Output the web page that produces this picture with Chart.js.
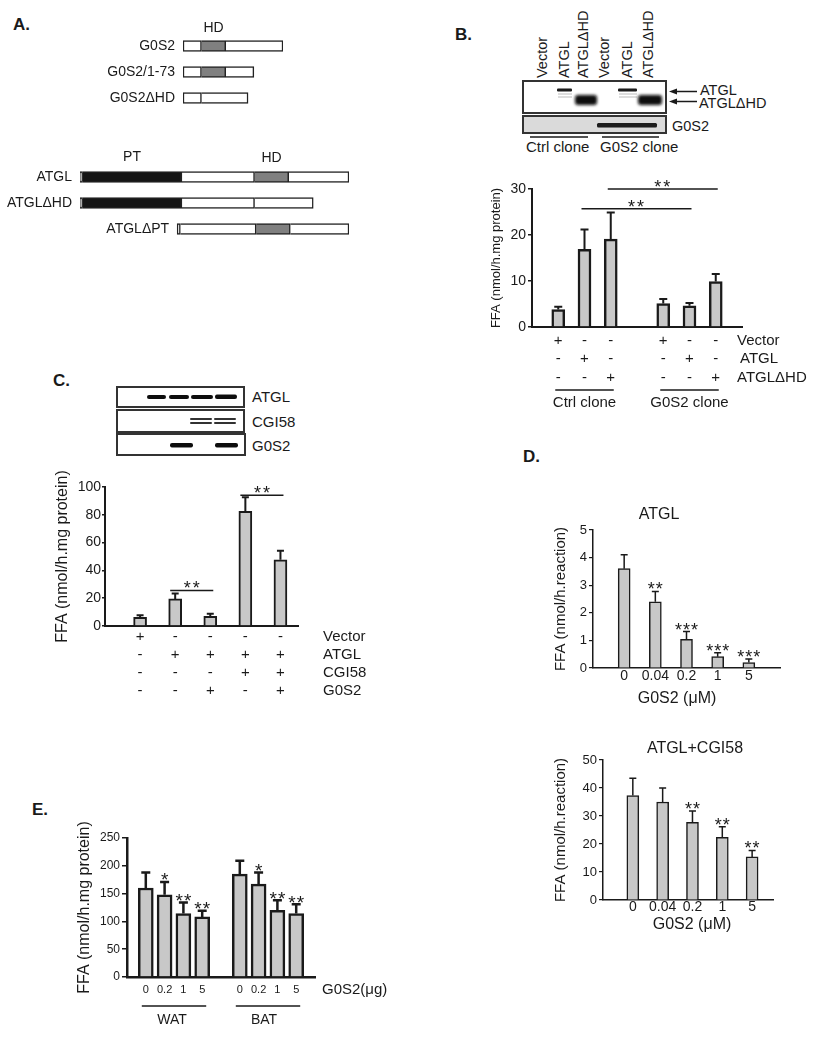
<!DOCTYPE html>
<html><head><meta charset="utf-8">
<script src="https://cdn.jsdelivr.net/npm/chart.js@4.4.1/dist/chart.umd.min.js"></script>
<style>
html,body{margin:0;padding:0;background:#fff;}
#page{position:relative;width:818px;height:1050px;overflow:hidden;background:#fff;}
canvas{position:absolute;}
svg{position:absolute;left:0;top:0;}
</style></head>
<body><div id="page">
<svg width="818" height="1050" font-family="'Liberation Sans', Arial, sans-serif" fill="#1a1a1a">
<defs>
<filter id="b1" x="-20%" y="-100%" width="140%" height="300%"><feGaussianBlur stdDeviation="0.7"/></filter>
<filter id="b2" x="-20%" y="-50%" width="140%" height="200%"><feGaussianBlur stdDeviation="1.4"/></filter>
</defs>
<g font-weight="bold" font-size="17">
<text x="13" y="30">A.</text>
<text x="455" y="40">B.</text>
<text x="53" y="386">C.</text>
<text x="523" y="462">D.</text>
<text x="32" y="815">E.</text>
</g>
<!-- Panel B blot -->
<g font-size="14.5" dominant-baseline="central">
<text transform="translate(542,78) rotate(-90)">Vector</text>
<text transform="translate(564,78) rotate(-90)">ATGL</text>
<text transform="translate(583,78) rotate(-90)">ATGLΔHD</text>
<text transform="translate(604,78) rotate(-90)">Vector</text>
<text transform="translate(627,78) rotate(-90)">ATGL</text>
<text transform="translate(648,78) rotate(-90)">ATGLΔHD</text>
</g>
<rect x="523" y="81" width="143" height="32" fill="#fff" stroke="#333" stroke-width="2"/>
<g stroke="#bbb" stroke-width="1">
<line x1="558" y1="94" x2="572" y2="94"/><line x1="558" y1="97" x2="572" y2="97"/>
<line x1="619" y1="94" x2="637" y2="94"/><line x1="619" y1="97" x2="637" y2="97"/>
</g>
<g filter="url(#b1)" fill="#1a1a1a">
<rect x="557" y="88.5" width="15" height="3" rx="1"/>
<rect x="618" y="88.5" width="19" height="3" rx="1"/>
</g>
<g filter="url(#b2)" fill="#0a0a0a">
<rect x="575" y="95" width="22" height="10" rx="3"/>
<rect x="638" y="95" width="24" height="10" rx="3"/>
</g>
<rect x="523" y="116" width="143" height="17" fill="#dadada" stroke="#333" stroke-width="2"/>
<g filter="url(#b1)" fill="#1a1a1a">
<rect x="597" y="123" width="60" height="4.5" rx="1.5"/>
</g>
<g stroke="#1a1a1a" stroke-width="1.5">
<line x1="675" y1="91.5" x2="697" y2="91.5"/>
<line x1="675" y1="101.5" x2="697" y2="101.5"/>
<line x1="530" y1="137" x2="588" y2="137"/>
<line x1="602" y1="137" x2="659" y2="137"/>
</g>
<polygon points="669,91.5 677,88.5 677,94.5"/>
<polygon points="669,101.5 677,98.5 677,104.5"/>
<g font-size="14.5">
<text x="700" y="95">ATGL</text>
<text x="699" y="108">ATGLΔHD</text>
<text x="672" y="131">G0S2</text>
</g>
<g font-size="15">
<text x="526" y="152">Ctrl clone</text>
<text x="600" y="152">G0S2 clone</text>
</g>
<!-- Panel C blot -->
<rect x="117" y="387" width="127" height="20" fill="#fff" stroke="#333" stroke-width="2"/>
<rect x="117" y="410" width="127" height="22" fill="#fff" stroke="#333" stroke-width="2"/>
<rect x="117" y="434" width="128" height="21" fill="#fff" stroke="#333" stroke-width="2"/>
<g filter="url(#b1)" fill="#111">
<rect x="147" y="395" width="19" height="4" rx="2"/>
<rect x="169" y="395" width="20" height="4" rx="2"/>
<rect x="191" y="395" width="22" height="4" rx="2"/>
<rect x="215" y="394.5" width="22" height="4.5" rx="2"/>
<rect x="170" y="443" width="23" height="4.5" rx="2"/>
<rect x="215" y="443" width="23" height="4.5" rx="2"/>
</g>
<g filter="url(#b1)" fill="#333">
<rect x="190" y="418" width="22" height="2" rx="1"/>
<rect x="214" y="418" width="22" height="2" rx="1"/>
<rect x="190" y="422" width="22" height="2" rx="1"/>
<rect x="214" y="422" width="22" height="2" rx="1"/>
</g>
<g font-size="15">
<text x="252" y="402">ATGL</text>
<text x="252" y="426.5">CGI58</text>
<text x="252" y="450.5">G0S2</text>
</g>
</svg>
<canvas id="cA1"></canvas>
<canvas id="cA2"></canvas>
<canvas id="cB"></canvas>
<canvas id="cC"></canvas>
<canvas id="cD1"></canvas>
<canvas id="cD2"></canvas>
<canvas id="cE"></canvas>
</div>
<script>
// ---------------- DATA ----------------
// Panel A: domain maps (segment start, end, kind)
const g0s2Constructs = ['G0S2', 'G0S2/1-73', 'G0S2ΔHD'];
const g0s2Segments = [
  [[0, 19, 'plain'], [19, 44, 'HD'], [44, 103, 'plain']],
  [[0, 19, 'plain'], [19, 44, 'HD'], [44, 73, 'plain']],
  [[0, 19, 'plain'], [19, 67, 'plain']]
];
const atglConstructs = ['ATGL', 'ATGLΔHD', 'ATGLΔPT'];
const atglSegments = [
  [[0, 4, 'plain'], [4, 191, 'PT'], [191, 327, 'plain'], [327, 391, 'HD'], [391, 504, 'plain']],
  [[0, 4, 'plain'], [4, 191, 'PT'], [191, 327, 'plain'], [327, 437, 'plain']],
  [[182, 188, 'plain'], [188, 330, 'plain'], [330, 394, 'HD'], [394, 504, 'plain']]
];

// Panel B
const bCategories = ['Vector', 'ATGL', 'ATGLΔHD', '', 'Vector', 'ATGL', 'ATGLΔHD'];
const bFFA = [3.8, 16.9, 19.1, null, 5.1, 4.6, 9.9];
const bErr = [0.6, 4.3, 5.8, null, 1.0, 0.6, 1.6];
const bRowLabels = ['Vector', 'ATGL', 'ATGLΔHD'];
const bSigns = [
  ['+', '-', '-', null, '+', '-', '-'],
  ['-', '+', '-', null, '-', '+', '-'],
  ['-', '-', '+', null, '-', '-', '+']
];
const bGroups = [{ label: 'Ctrl clone', first: 1, last: 3 }, { label: 'G0S2 clone', first: 5, last: 7 }];
const bCompare = [{ from: 2, to: 6, y: 25.7, label: '**' }, { from: 3, to: 7, y: 30, label: '**' }];
const bYMax = 30, bYStep = 10;

// Panel C
const cRowLabels = ['Vector', 'ATGL', 'CGI58', 'G0S2'];
const cSigns = [
  ['+', '-', '-', '-', '-'],
  ['-', '+', '+', '+', '+'],
  ['-', '-', '-', '+', '+'],
  ['-', '-', '+', '-', '+']
];
const cFFA = [6.3, 19.5, 7.0, 82.5, 47.6];
const cErr = [1.4, 3.8, 1.9, 10.1, 6.6];
const cCompare = [{ from: 2, to: 3, y: 25.5, label: '**' }, { from: 4, to: 5, y: 94, label: '**' }];
const cYMax = 100, cYStep = 20;

// Panel D
const dDoses = ['0', '0.04', '0.2', '1', '5'];
const dAtgl = [3.6, 2.4, 1.04, 0.41, 0.2];
const dAtglErr = [0.5, 0.37, 0.28, 0.14, 0.13];
const dAtglStars = ['', '**', '***', '***', '***'];
const dCgi = [37.3, 35.0, 27.7, 22.4, 15.4];
const dCgiErr = [6.2, 5.0, 4.1, 3.8, 2.3];
const dCgiStars = ['', '', '**', '**', '**'];

// Panel E
const eDoses = ['0', '0.2', '1', '5'];
const eTissues = ['WAT', 'BAT'];
const eWAT = [160, 148, 114, 108];
const eWATErr = [28, 23, 20, 11];
const eWATStars = ['', '*', '**', '**'];
const eBAT = [185, 167, 120, 114];
const eBATErr = [24, 21, 18, 17];
const eBATStars = ['', '*', '**', '**'];

// ---------------- STYLE / HELPERS ----------------
const FONT = "'Liberation Sans', Arial, sans-serif";
const INK = '#1a1a1a';
const FILL = '#c8c8c8';
const KIND = { plain: '#ffffff', HD: '#808080', PT: '#151515' };
const F = (s, w) => (w ? w + ' ' : '') + s + 'px ' + FONT;

Chart.defaults.font.family = FONT;
Chart.defaults.color = INK;
Chart.defaults.animation = false;
Chart.defaults.events = [];
Chart.defaults.plugins.legend.display = false;
Chart.defaults.plugins.tooltip.enabled = false;

const ANN = {};
function P(chart, p, axis) {
  if (p.v !== undefined) return chart.scales[axis].getPixelForValue(p.v) + (p.d || 0);
  return chart.chartArea[p.e] + (p.d || 0);
}
const annotPlugin = {
  id: 'annot',
  afterDraw(chart) {
    const cfg = ANN[chart.canvas.id];
    if (!cfg || !cfg.items) return;
    const ctx = chart.ctx;
    for (const it of cfg.items) {
      ctx.save();
      if (it.type === 'text') {
        ctx.font = it.font; ctx.fillStyle = it.color || INK;
        ctx.textAlign = it.align || 'center'; ctx.textBaseline = it.baseline || 'middle';
        if (it.ls) ctx.letterSpacing = it.ls + 'px';
        const x = P(chart, it.x, 'x'), y = P(chart, it.y, 'y');
        ctx.translate(x, y); if (it.rot) ctx.rotate(it.rot);
        ctx.fillText(it.text, 0, 0);
      } else if (it.type === 'line') {
        const x1 = P(chart, it.x1, 'x'), x2 = P(chart, it.x2, 'x'), y = P(chart, it.y, 'y');
        ctx.strokeStyle = INK; ctx.lineWidth = it.w || 1.5;
        ctx.beginPath(); ctx.moveTo(x1, y); ctx.lineTo(x2, y); ctx.stroke();
      }
      ctx.restore();
    }
  }
};
const errPlugin = {
  id: 'errbars',
  afterDatasetsDraw(chart) {
    const cfg = ANN[chart.canvas.id];
    if (!cfg || !cfg.err) return;
    const { lw, cap, starSize, starGap } = cfg.err;
    const ctx = chart.ctx, ys = chart.scales.y;
    ctx.save();
    ctx.strokeStyle = INK; ctx.lineWidth = lw; ctx.fillStyle = INK;
    chart.data.datasets.forEach((ds, i) => {
      const meta = chart.getDatasetMeta(i);
      meta.data.forEach((el, j) => {
        const d = ds.data[j];
        if (!d || d.err == null) return;
        const x = el.x, yTop = ys.getPixelForValue(d.y + d.err);
        ctx.beginPath();
        ctx.moveTo(x, el.y); ctx.lineTo(x, yTop);
        ctx.moveTo(x - cap / 2, yTop); ctx.lineTo(x + cap / 2, yTop);
        ctx.stroke();
        if (d.star) {
          ctx.save();
          ctx.font = F(starSize); ctx.textAlign = 'center'; ctx.textBaseline = 'alphabetic';
          ctx.letterSpacing = '1px';
          ctx.fillText(d.star, x + 0.5, yTop - starGap + 0.58 * starSize);
          ctx.restore();
        }
      });
    });
    ctx.restore();
  }
};
Chart.register(annotPlugin, errPlugin);

function T(text, x, y, size, extra) {
  return Object.assign({ type: 'text', text, x, y, font: F(size) }, extra || {});
}
function STAR(text, x, y, size) {
  return { type: 'text', text, x, y: { v: y.v, e: y.e, d: (y.d || 0) + 0.58 * size }, font: F(size), baseline: 'alphabetic', ls: 2 };
}
function L(x1, x2, y, w) { return { type: 'line', x1, x2, y, w }; }

function place(id, box) {
  const c = document.getElementById(id);
  c.width = box.w; c.height = box.h;
  c.style.left = box.x + 'px'; c.style.top = box.y + 'px';
  c.style.width = box.w + 'px'; c.style.height = box.h + 'px';
  return c;
}

function buildBar(id, box, area, s) {
  const c = place(id, box);
  const padL = area.l - box.x, padT = area.t - box.y, padR = box.x + box.w - area.r, padB = box.y + box.h - area.b;
  ANN[id] = { items: s.items, err: s.err };
  return new Chart(c, {
    type: 'bar',
    data: { datasets: [{ data: s.points, backgroundColor: FILL, borderColor: INK, borderWidth: s.bw, borderSkipped: 'start', barThickness: s.barW }] },
    options: {
      responsive: false, devicePixelRatio: 1,
      layout: { padding: { left: 0, top: padT, right: padR, bottom: 0 } },
      scales: {
        x: { type: 'linear', offset: false, min: 0, max: s.xMax,
             ticks: { display: false }, grid: { display: false, drawTicks: false },
             border: { display: true, color: INK, width: s.axisW },
             afterFit: sc => { sc.height = padB; } },
        y: { type: 'linear', min: 0, max: s.yMax,
             ticks: { stepSize: s.yStep, font: { size: s.tickSize }, color: INK, padding: s.tickPad },
             grid: { display: true, drawOnChartArea: false, drawTicks: true, tickLength: s.tickLen, color: INK, lineWidth: s.tickW },
             border: { display: true, color: INK, width: s.axisW },
             afterFit: sc => { sc.width = padL; } }
      }
    }
  });
}

function buildMap(id, box, area, rows, segs, xMax, extraItems) {
  const c = place(id, box);
  const padL = area.l - box.x, padT = area.t - box.y, padR = box.x + box.w - area.r, padB = box.y + box.h - area.b;
  const nSeg = Math.max(...segs.map(s => s.length));
  const datasets = [];
  for (let j = 0; j < nSeg; j++) {
    datasets.push({
      data: segs.map(s => s[j] ? [s[j][0], s[j][1]] : null),
      backgroundColor: segs.map(s => s[j] ? KIND[s[j][2]] : 'transparent'),
      borderColor: '#222', borderWidth: 1.5,
      borderSkipped: j === 0 ? false : 'left',
      barThickness: 11, grouped: false
    });
  }
  const items = rows.map((r, i) => T(r, { v: segs[i][0][0], d: -8 }, { v: i }, 14, { align: 'right' })).concat(extraItems);
  ANN[id] = { items };
  return new Chart(c, {
    type: 'bar',
    data: { labels: rows, datasets },
    options: {
      indexAxis: 'y', responsive: false, devicePixelRatio: 1,
      layout: { padding: { left: padL, top: padT, right: padR, bottom: padB } },
      scales: { x: { type: 'linear', min: 0, max: xMax, display: false }, y: { display: false } }
    }
  });
}

// ---------------- PANEL A ----------------
buildMap('cA1', { x: 100, y: 5, w: 200, h: 112 }, { l: 183, t: 33, r: 283, b: 111 },
  g0s2Constructs, g0s2Segments, 103,
  [T('HD', { v: 31.5 }, { e: 'top', d: -5 }, 14)]);
buildMap('cA2', { x: 0, y: 140, w: 360, h: 108 }, { l: 80, t: 164, r: 349, b: 242 },
  atglConstructs, atglSegments, 504,
  [T('PT', { v: 97.5 }, { e: 'top', d: -7 }, 14), T('HD', { v: 359 }, { e: 'top', d: -6 }, 14)]);

// ---------------- PANEL B ----------------
(function () {
  const points = bFFA.map((v, i) => v == null ? null : { x: i + 1, y: v, err: bErr[i] }).filter(Boolean);
  const items = [];
  const rowOff = [14, 32, 51];
  bSigns.forEach((row, r) => row.forEach((s, i) => { if (s) items.push(T(s, { v: i + 1 }, { e: 'bottom', d: rowOff[r] }, 15)); }));
  bRowLabels.forEach((lab, r) => items.push(T(lab, { e: 'right', d: r === 1 ? -2 : -5 }, { e: 'bottom', d: rowOff[r] }, 15, { align: 'left' })));
  bGroups.forEach(g => {
    items.push(L({ v: g.first, d: -3 }, { v: g.last, d: 3 }, { e: 'bottom', d: 63 }, 1.5));
    items.push(T(g.label, { v: (g.first + g.last) / 2 }, { e: 'bottom', d: 76 }, 15));
  });
  bCompare.forEach(cmp => {
    items.push(L({ v: cmp.from, d: -3 }, { v: cmp.to, d: 2 }, { v: cmp.y }, 1.5));
    items.push(STAR(cmp.label, { v: (cmp.from + cmp.to) / 2 }, { v: cmp.y, d: -6.5 }, 18));
  });
  items.push(T('FFA (nmol/h.mg protein)', { e: 'left', d: -36 }, { v: bYMax / 2 }, 13, { rot: -Math.PI / 2 }));
  buildBar('cB', { x: 480, y: 170, w: 338, h: 242 }, { l: 532, t: 189, r: 742, b: 327 }, {
    points, items, xMax: bCategories.length + 1, yMax: bYMax, yStep: bYStep,
    bw: 2.5, barW: 13, axisW: 2, tickSize: 14, tickPad: 2, tickLen: 4, tickW: 1.5,
    err: { lw: 2, cap: 8, starSize: 18, starGap: 6 }
  });
})();

// ---------------- PANEL C ----------------
(function () {
  const points = cFFA.map((v, i) => ({ x: i + 1, y: v, err: cErr[i] }));
  const items = [];
  const rowOff = [11, 29, 47, 65];
  cSigns.forEach((row, r) => row.forEach((s, i) => items.push(T(s, { v: i + 1 }, { e: 'bottom', d: rowOff[r] }, 15))));
  cRowLabels.forEach((lab, r) => items.push(T(lab, { e: 'right', d: 25 }, { e: 'bottom', d: rowOff[r] }, 15, { align: 'left' })));
  cCompare.forEach(cmp => {
    items.push(L({ v: cmp.from, d: -5 }, { v: cmp.to, d: 3 }, { v: cmp.y }, 1.5));
    items.push(STAR(cmp.label, { v: (cmp.from + cmp.to) / 2 }, { v: cmp.y, d: -7 }, 18));
  });
  items.push(T('FFA (nmol/h.mg protein)', { e: 'left', d: -42.5 }, { v: cYMax / 2 }, 16, { rot: -Math.PI / 2 }));
  buildBar('cC', { x: 45, y: 470, w: 335, h: 235 }, { l: 105, t: 487, r: 298, b: 626 }, {
    points, items, xMax: 5.5, yMax: cYMax, yStep: cYStep,
    bw: 2, barW: 13, axisW: 2, tickSize: 14, tickPad: 1, tickLen: 3, tickW: 1.5,
    err: { lw: 2, cap: 7, starSize: 18, starGap: 6 }
  });
})();

// ---------------- PANEL D ----------------
(function () {
  const points = dAtgl.map((v, i) => ({ x: i + 1, y: v, err: dAtglErr[i], star: dAtglStars[i] }));
  const items = [];
  dDoses.forEach((d, i) => items.push(T(d, { v: i + 1 }, { e: 'bottom', d: 8 }, 14)));
  items.push(T('G0S2 (μM)', { e: 'left', d: 84 }, { e: 'bottom', d: 31 }, 16));
  items.push(T('ATGL', { e: 'left', d: 66 }, { e: 'top', d: -15 }, 16));
  items.push(T('FFA (nmol/h.reaction)', { e: 'left', d: -32 }, { v: 2.5 }, 15, { rot: -Math.PI / 2 }));
  buildBar('cD1', { x: 548, y: 500, w: 270, h: 212 }, { l: 593, t: 530, r: 780, b: 668 }, {
    points, items, xMax: 6, yMax: 5, yStep: 1,
    bw: 1.5, barW: 12, axisW: 1.5, tickSize: 13, tickPad: 2, tickLen: 4, tickW: 1.2,
    err: { lw: 1.5, cap: 7, starSize: 18, starGap: 6.5 }
  });
})();
(function () {
  const points = dCgi.map((v, i) => ({ x: i + 1, y: v, err: dCgiErr[i], star: dCgiStars[i] }));
  const items = [];
  dDoses.forEach((d, i) => items.push(T(d, { v: i + 1 }, { e: 'bottom', d: 7 }, 14)));
  items.push(T('G0S2 (μM)', { e: 'left', d: 89 }, { e: 'bottom', d: 25 }, 16));
  items.push(T('ATGL+CGI58', { e: 'left', d: 92 }, { e: 'top', d: -11 }, 16));
  items.push(T('FFA (nmol/h.reaction)', { e: 'left', d: -42 }, { v: 25 }, 15, { rot: -Math.PI / 2 }));
  buildBar('cD2', { x: 548, y: 735, w: 270, h: 205 }, { l: 603, t: 760, r: 773, b: 900 }, {
    points, items, xMax: 5.7, yMax: 50, yStep: 10,
    bw: 1.5, barW: 12, axisW: 1.5, tickSize: 13, tickPad: 2, tickLen: 4, tickW: 1.2,
    err: { lw: 1.5, cap: 7, starSize: 18, starGap: 6.5 }
  });
})();

// ---------------- PANEL E ----------------
(function () {
  const series = [[eWAT, eWATErr, eWATStars], [eBAT, eBATErr, eBATStars]];
  const points = [];
  const items = [];
  series.forEach(([vals, errs, stars], g) => {
    const base = g * (eDoses.length + 1);
    vals.forEach((v, i) => points.push({ x: base + i + 1, y: v, err: errs[i], star: stars[i] }));
    eDoses.forEach((d, i) => items.push(T(d, { v: base + i + 1 }, { e: 'bottom', d: 13 }, 11)));
    const first = base + 1, last = base + eDoses.length;
    items.push(L({ v: first, d: -4 }, { v: last, d: 4 }, { e: 'bottom', d: 29 }, 1.5));
    items.push(T(eTissues[g], { v: (first + last) / 2, d: -2 - 2 * g }, { e: 'bottom', d: 43 }, 14));
  });
  items.push(T('G0S2(μg)', { e: 'right', d: 7 }, { e: 'bottom', d: 13 }, 15, { align: 'left' }));
  items.push(T('FFA (nmol/h.mg protein)', { e: 'left', d: -42 }, { v: 125 }, 16, { rot: -Math.PI / 2 }));
  buildBar('cE', { x: 70, y: 815, w: 325, h: 215 }, { l: 127, t: 838, r: 315, b: 977 }, {
    points, items, xMax: 2 * eDoses.length + 2, yMax: 250, yStep: 50,
    bw: 2.5, barW: 15, axisW: 2.5, tickSize: 12, tickPad: 2, tickLen: 5, tickW: 1.5,
    err: { lw: 2.5, cap: 9, starSize: 19, starGap: 6.5 }
  });
})();
</script>
</body></html>
